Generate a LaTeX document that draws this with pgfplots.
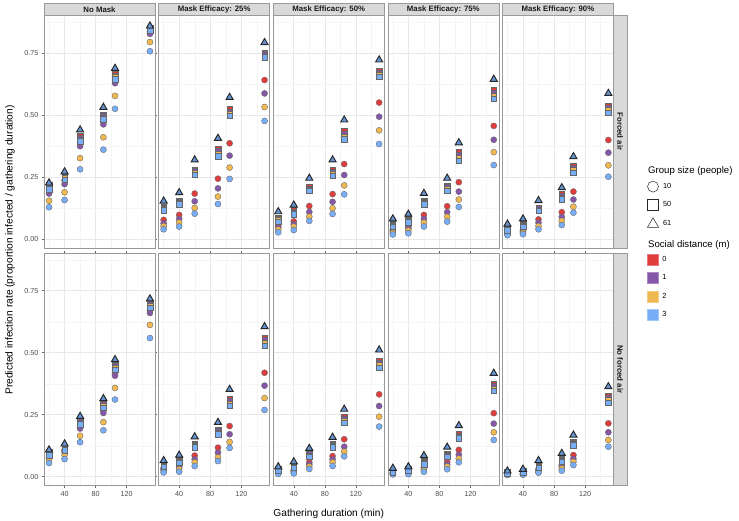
\documentclass[border=0pt]{standalone}
\usepackage{fontspec}
\setmainfont{Liberation Sans}
\usepackage{pgfplots}
\usepackage{pgfplotstable}
\pgfplotsset{compat=1.18}

\definecolor{cRed}{HTML}{E03C3C}
\definecolor{cPur}{HTML}{8656A8}
\definecolor{cYel}{HTML}{F0B850}
\definecolor{cBlu}{HTML}{78AEF8}
\definecolor{stripgray}{HTML}{D9D9D9}

% columns: duration, circles (10 people) d=0..3, squares (50) d=0..3, triangles (61)
\pgfplotstableread{
x c0 c1 c2 c3 s0 s1 s2 s3 t
20 0.200 0.183 0.154 0.128 0.216 0.211 0.206 0.200 0.226
40 0.236 0.221 0.188 0.157 0.256 0.251 0.245 0.239 0.271
60 0.390 0.374 0.326 0.281 0.414 0.408 0.401 0.394 0.440
90 0.478 0.462 0.410 0.360 0.502 0.496 0.489 0.482 0.531
105 0.642 0.628 0.577 0.525 0.664 0.658 0.652 0.645 0.688
150 0.835 0.827 0.794 0.757 0.852 0.848 0.844 0.840 0.859
}\fA
\pgfplotstableread{
x c0 c1 c2 c3 s0 s1 s2 s3 t
20 0.077 0.063 0.052 0.039 0.128 0.123 0.119 0.115 0.153
40 0.097 0.081 0.066 0.050 0.155 0.150 0.145 0.140 0.187
60 0.183 0.152 0.125 0.102 0.280 0.273 0.266 0.259 0.319
90 0.243 0.204 0.171 0.141 0.362 0.353 0.344 0.335 0.406
105 0.386 0.336 0.288 0.242 0.523 0.514 0.506 0.497 0.571
150 0.641 0.587 0.532 0.476 0.752 0.745 0.739 0.732 0.792
}\fB
\pgfplotstableread{
x c0 c1 c2 c3 s0 s1 s2 s3 t
20 0.052 0.045 0.038 0.027 0.085 0.080 0.075 0.070 0.110
40 0.071 0.060 0.050 0.036 0.115 0.110 0.105 0.100 0.137
60 0.133 0.109 0.090 0.073 0.208 0.203 0.199 0.194 0.245
90 0.181 0.150 0.124 0.101 0.280 0.272 0.263 0.255 0.319
105 0.302 0.258 0.216 0.180 0.436 0.425 0.413 0.402 0.480
150 0.550 0.493 0.438 0.383 0.678 0.670 0.662 0.654 0.722
}\fC
\pgfplotstableread{
x c0 c1 c2 c3 s0 s1 s2 s3 t
20 0.038 0.031 0.025 0.018 0.062 0.058 0.054 0.050 0.081
40 0.050 0.042 0.034 0.023 0.080 0.076 0.072 0.068 0.100
60 0.097 0.081 0.066 0.050 0.154 0.149 0.145 0.140 0.184
90 0.132 0.108 0.089 0.070 0.215 0.208 0.201 0.194 0.245
105 0.229 0.191 0.159 0.129 0.349 0.338 0.326 0.315 0.388
150 0.456 0.400 0.350 0.298 0.600 0.589 0.577 0.566 0.644
}\fD
\pgfplotstableread{
x c0 c1 c2 c3 s0 s1 s2 s3 t
20 0.030 0.025 0.020 0.015 0.045 0.042 0.039 0.036 0.060
40 0.036 0.030 0.025 0.019 0.060 0.057 0.053 0.050 0.081
60 0.079 0.066 0.052 0.039 0.127 0.123 0.118 0.114 0.155
90 0.108 0.089 0.073 0.056 0.181 0.174 0.167 0.160 0.207
105 0.191 0.159 0.130 0.106 0.295 0.286 0.277 0.268 0.332
150 0.399 0.348 0.297 0.251 0.537 0.528 0.519 0.510 0.587
}\fE
\pgfplotstableread{
x c0 c1 c2 c3 s0 s1 s2 s3 t
20 0.088 0.080 0.070 0.055 0.098 0.094 0.090 0.086 0.108
40 0.108 0.100 0.087 0.071 0.120 0.116 0.112 0.108 0.132
60 0.205 0.194 0.165 0.139 0.230 0.224 0.218 0.212 0.243
90 0.268 0.257 0.220 0.187 0.300 0.293 0.285 0.278 0.315
105 0.420 0.407 0.358 0.311 0.452 0.445 0.438 0.431 0.472
150 0.670 0.660 0.612 0.559 0.702 0.695 0.688 0.681 0.717
}\nA
\pgfplotstableread{
x c0 c1 c2 c3 s0 s1 s2 s3 t
20 0.035 0.030 0.024 0.017 0.050 0.047 0.044 0.041 0.065
40 0.043 0.037 0.030 0.020 0.068 0.064 0.060 0.056 0.087
60 0.085 0.070 0.058 0.043 0.132 0.128 0.124 0.120 0.161
90 0.117 0.097 0.078 0.063 0.190 0.184 0.177 0.171 0.219
105 0.204 0.171 0.140 0.116 0.313 0.304 0.295 0.286 0.352
150 0.419 0.367 0.317 0.269 0.561 0.550 0.539 0.528 0.605
}\nB
\pgfplotstableread{
x c0 c1 c2 c3 s0 s1 s2 s3 t
20 0.020 0.017 0.014 0.011 0.030 0.028 0.026 0.024 0.040
40 0.027 0.022 0.018 0.013 0.045 0.042 0.039 0.036 0.060
60 0.058 0.050 0.041 0.031 0.095 0.090 0.085 0.080 0.114
90 0.083 0.070 0.058 0.043 0.131 0.127 0.122 0.118 0.159
105 0.151 0.121 0.101 0.082 0.239 0.232 0.225 0.218 0.272
150 0.332 0.285 0.242 0.202 0.467 0.458 0.449 0.440 0.511
}\nC
\pgfplotstableread{
x c0 c1 c2 c3 s0 s1 s2 s3 t
20 0.016 0.014 0.012 0.009 0.024 0.022 0.020 0.018 0.034
40 0.020 0.017 0.014 0.010 0.030 0.028 0.026 0.024 0.040
60 0.038 0.033 0.028 0.020 0.062 0.058 0.054 0.050 0.085
90 0.059 0.050 0.041 0.030 0.092 0.088 0.084 0.080 0.119
105 0.108 0.089 0.073 0.058 0.171 0.166 0.160 0.155 0.206
150 0.256 0.214 0.179 0.148 0.373 0.364 0.355 0.346 0.417
}\nD
\pgfplotstableread{
x c0 c1 c2 c3 s0 s1 s2 s3 t
20 0.012 0.010 0.009 0.007 0.017 0.016 0.015 0.014 0.023
40 0.014 0.012 0.010 0.008 0.022 0.021 0.020 0.019 0.030
60 0.030 0.025 0.020 0.016 0.045 0.042 0.039 0.036 0.065
90 0.047 0.040 0.033 0.024 0.073 0.069 0.065 0.061 0.094
105 0.087 0.072 0.060 0.047 0.138 0.134 0.130 0.126 0.168
150 0.215 0.179 0.148 0.121 0.326 0.317 0.308 0.299 0.363
}\nE

\pgfplotsset{
  panel/.style={
    scale only axis, width=111pt, height=232.6pt,
    xmin=13.5, xmax=156.5, ymin=-0.036, ymax=0.902,
    xtick={40,80,120}, minor xtick={20,60,100,140},
    ytick={0,0.25,0.5,0.75}, minor ytick={0.125,0.375,0.625,0.875},
    grid=both,
    major grid style={black!9, line width=0.55pt},
    minor grid style={black!4, line width=0.3pt},
    axis line style={black!40, line width=0.5pt},
    tick align=outside, major tick length=2.2pt, minor tick length=0pt,
    tick style={black!60, line width=0.5pt},
    xticklabels={}, yticklabels={},
    ticklabel style={font=\fontsize{7.2}{8}\selectfont, text=black!70},
    /pgf/number format/assume math mode=true,
    table/x=x, anchor=north west,
  },
  circ/.style={only marks, forget plot, mark=*, mark size=3.05pt,
    mark options={draw=black!60, fill=#1, line width=0.35pt}},
  sq/.style={only marks, forget plot, mark=square*, mark size=2.8pt,
    mark options={draw=black!60, fill=#1, line width=0.35pt}},
  tri/.style={only marks, forget plot, mark=triangle*, mark size=4.1pt,
    mark options={draw=black!85, fill=#1, line width=0.95pt}},
  keys/.style={legend cell align=left,
    legend style={draw=none, fill=none, inner sep=0pt, row sep=7.3pt,
      font=\fontsize{7.4}{8}\selectfont, anchor=north west,
      /tikz/every odd column/.append style={column sep=2.5pt}}},
}

\newcommand\pts[1]{%
  \addplot[circ=cRed] table[y=c0]{#1};
  \addplot[circ=cPur] table[y=c1]{#1};
  \addplot[circ=cYel] table[y=c2]{#1};
  \addplot[circ=cBlu] table[y=c3]{#1};
  \addplot[sq=cRed] table[y=s0]{#1};
  \addplot[sq=cPur] table[y=s1]{#1};
  \addplot[sq=cYel] table[y=s2]{#1};
  \addplot[sq=cBlu] table[y=s3]{#1};
  \addplot[tri=cBlu!85!black] table[y=t]{#1};
}

\newcommand\strip[3]{% left x, right x, text
  \draw[fill=stripgray, draw=black!40, line width=0.5pt] (#1pt,-3pt) rectangle (#2pt,-15.3pt);
  \node[font=\fontsize{7.8}{8}\selectfont\bfseries, text=black!90] at ({(#1+#2)/2*1pt},-9.3pt) {#3};
}

\begin{document}
\begin{tikzpicture}
\path[use as bounding box] (0,0) rectangle (739pt,-521pt);

% top row: forced air
\begin{axis}[panel, at={(44pt,-15.3pt)}, yticklabels={0.00,0.25,0.50,0.75}, xtick style={draw=none}]
\pts\fA
\end{axis}
\begin{axis}[panel, at={(158.6pt,-15.3pt)}, xtick style={draw=none}, ytick style={draw=none}]
\pts\fB
\end{axis}
\begin{axis}[panel, at={(273.2pt,-15.3pt)}, xtick style={draw=none}, ytick style={draw=none}]
\pts\fC
\end{axis}
\begin{axis}[panel, at={(387.8pt,-15.3pt)}, xtick style={draw=none}, ytick style={draw=none}]
\pts\fD
\end{axis}
\begin{axis}[panel, keys, at={(502.4pt,-15.3pt)}, xtick style={draw=none}, ytick style={draw=none},
  legend style={at={(1.305,0.288)}}]
\pts\fE
\addlegendimage{only marks, mark=o, mark size=5.5pt, black!85, line width=0.5pt}
\addlegendentry{10}
\addlegendimage{only marks, mark=square, mark size=5.5pt, black!85, line width=0.5pt}
\addlegendentry{50}
\addlegendimage{only marks, mark=triangle, mark size=6.4pt, black!85, line width=0.5pt}
\addlegendentry{61}
\end{axis}

% bottom row: no forced air
\begin{axis}[panel, at={(44pt,-253pt)}, yticklabels={0.00,0.25,0.50,0.75}, xticklabels={40,80,120}]
\pts\nA
\end{axis}
\begin{axis}[panel, at={(158.6pt,-253pt)}, xticklabels={40,80,120}, ytick style={draw=none}]
\pts\nB
\end{axis}
\begin{axis}[panel, at={(273.2pt,-253pt)}, xticklabels={40,80,120}, ytick style={draw=none}]
\pts\nC
\end{axis}
\begin{axis}[panel, at={(387.8pt,-253pt)}, xticklabels={40,80,120}, ytick style={draw=none}]
\pts\nD
\end{axis}
\begin{axis}[panel, keys, at={(502.4pt,-253pt)}, xticklabels={40,80,120}, ytick style={draw=none},
  legend style={at={(1.300,0.995)}}]
\pts\nE
\addlegendimage{only marks, mark=square*, mark size=5.5pt, mark options={draw=cRed!70!white, fill=cRed}}
\addlegendentry{0}
\addlegendimage{only marks, mark=square*, mark size=5.5pt, mark options={draw=cPur!70!white, fill=cPur}}
\addlegendentry{1}
\addlegendimage{only marks, mark=square*, mark size=5.5pt, mark options={draw=cYel!70!white, fill=cYel}}
\addlegendentry{2}
\addlegendimage{only marks, mark=square*, mark size=5.5pt, mark options={draw=cBlu!70!white, fill=cBlu}}
\addlegendentry{3}
\end{axis}

% facet strips
\strip{44}{155}{No Mask}
\strip{158.6}{269.6}{Mask Efficacy: 25\%}
\strip{273.2}{384.2}{Mask Efficacy: 50\%}
\strip{387.8}{498.8}{Mask Efficacy: 75\%}
\strip{502.4}{613.4}{Mask Efficacy: 90\%}
\draw[fill=stripgray, draw=black!40, line width=0.5pt] (613.4pt,-15.3pt) rectangle (627pt,-247.9pt);
\node[rotate=-90, font=\fontsize{7.8}{8}\selectfont\bfseries, text=black!90] at (620.2pt,-131.6pt) {Forced air};
\draw[fill=stripgray, draw=black!40, line width=0.5pt] (613.4pt,-253pt) rectangle (627pt,-485.6pt);
\node[rotate=-90, font=\fontsize{7.8}{8}\selectfont\bfseries, text=black!90] at (620.2pt,-369.3pt) {No forced air};

% axis titles and legend titles
\node[font=\fontsize{10.2}{12}\selectfont] at (328.7pt,-514pt) {Gathering duration (min)};
\node[rotate=90, font=\fontsize{10.2}{12}\selectfont] at (10pt,-250pt)
  {Predicted infection rate (proportion infected / gathering duration)};
\node[anchor=west, inner sep=0pt, font=\fontsize{9.6}{11}\selectfont] at (648pt,-171pt) {Group size (people)};
\node[anchor=west, inner sep=0pt, font=\fontsize{9.6}{11}\selectfont] at (648pt,-245pt) {Social distance (m)};
\end{tikzpicture}
\end{document}
